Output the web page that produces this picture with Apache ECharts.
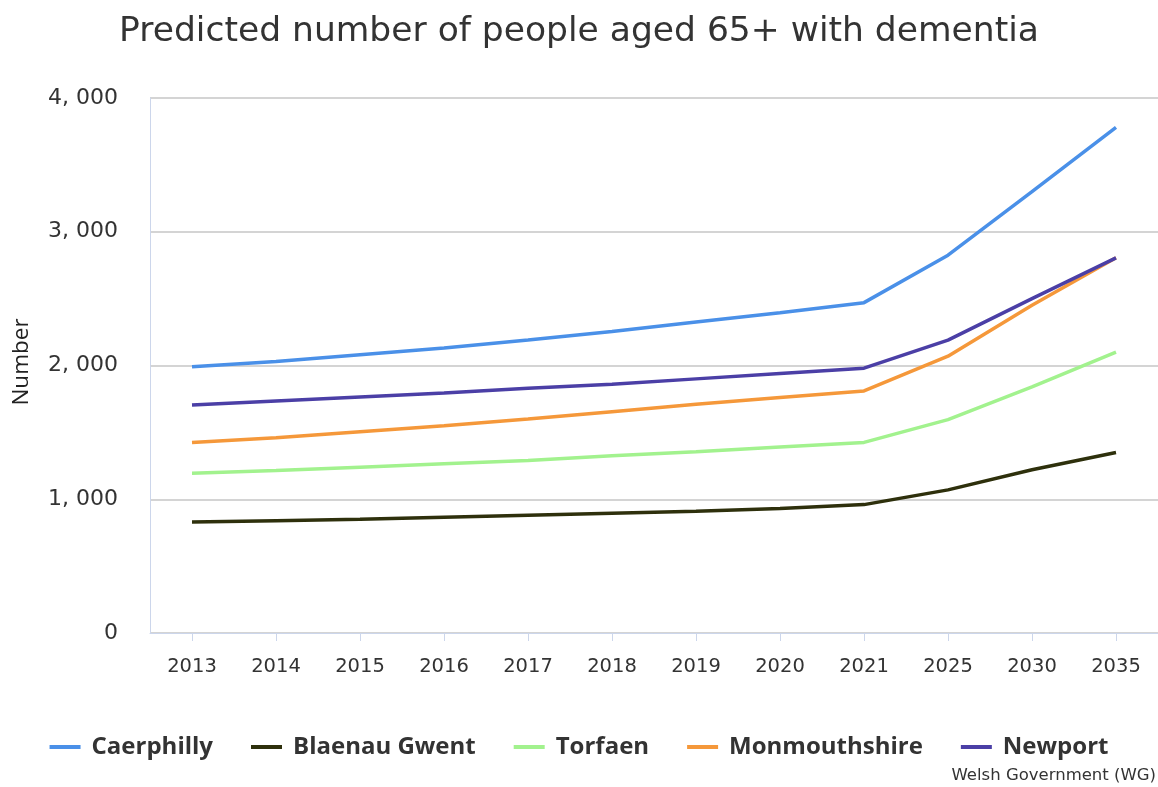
<!DOCTYPE html>
<html><head><meta charset="utf-8">
<script src="https://cdn.jsdelivr.net/npm/echarts@6/dist/echarts.min.js"></script>
<style>html,body{margin:0;padding:0;background:#fff}#c{width:1158px;height:787px}</style>
</head><body><div id="c"></div>
<script>
const categories = ['2013','2014','2015','2016','2017','2018','2019','2020','2021','2025','2030','2035'];
const caerphilly    = [1990, 2030, 2080, 2130, 2190, 2255, 2325, 2395, 2470, 2825, 3300, 3780];
const blaenauGwent  = [830, 840, 850, 865, 880, 895, 910, 930, 960, 1070, 1220, 1350];
const torfaen       = [1195, 1215, 1240, 1265, 1290, 1325, 1355, 1390, 1425, 1595, 1840, 2100];
const monmouthshire = [1425, 1460, 1505, 1550, 1600, 1655, 1710, 1760, 1810, 2070, 2450, 2805];
const newport       = [1705, 1735, 1765, 1795, 1830, 1860, 1900, 1940, 1980, 2190, 2500, 2805];
const seriesNames = ['Caerphilly','Blaenau Gwent','Torfaen','Monmouthshire','Newport'];
const seriesData = [caerphilly, blaenauGwent, torfaen, monmouthshire, newport];
const colors = ['#4a90e8','#2e300c','#a2f28e','#f5983a','#4b3fa6'];

const chart = echarts.init(document.getElementById('c'), null, {renderer:'canvas'});
const font = 'DejaVu Sans';
chart.setOption({
  animation:false,
  color: colors,
  title: {
    text: 'Predicted number of people aged 65+ with dementia',
    left: 'center', top: 10,
    textStyle: {fontFamily: font, fontSize: 34.5, fontWeight: 'normal', color: '#333'}
  },
  graphic: [{
    type:'text', right: 2, bottom: 3,
    style:{text:'Welsh Government (WG)', font:'16.5px "DejaVu Sans"', fill:'#333'}
  }, {
    type:'text', rotation: Math.PI/2, x: 22, y: 362,
    style:{text:'Number', font:'22.5px "Open Sans"', fill:'#222', align:'center', verticalAlign:'middle'}
  }],
  legend: {
    bottom: 23, left: 'center', itemGap: 38, itemWidth: 31, itemHeight: 4,
    icon: 'rect',
    textStyle: {fontFamily: 'Open Sans', fontSize: 24, fontWeight: 'bold', color: '#333', padding: [0,0,0,6]},
    data: seriesNames
  },
  grid: {left: 150, right: 0, top: 98, bottom: 154, containLabel:false},
  xAxis: {
    type: 'category', data: categories, boundaryGap: true,
    axisLine: {show:true, lineStyle:{color:'#ccd6eb', width:1}},
    axisTick: {show:true, alignWithLabel:true, length:8, lineStyle:{color:'#ccd6eb'}},
    axisLabel: {fontFamily: font, fontSize: 19.5, color:'#333', margin: 24}
  },
  yAxis: {
    type: 'value', min: 0, max: 4000, interval: 1000,
    axisLine: {show:true, lineStyle:{color:'#ccd6eb', width:1}},
    axisTick: {show:false},
    axisLabel: {fontFamily: font, fontSize: 22, color:'#333', margin: 32,
      formatter: v => v >= 1000 ? Math.floor(v/1000) + ', ' + String(v%1000).padStart(3,'0') : String(v)},
    splitLine: {show:true, lineStyle:{color:'#c6c6c6', width:1.5}}
  },
  series: seriesNames.map((n,i) => ({
    name: n, type: 'line', data: seriesData[i], showSymbol: false, symbol:'none',
    lineStyle: {width: 3.5, color: colors[i]}, itemStyle:{color: colors[i]}
  }))
});
</script></body></html>
